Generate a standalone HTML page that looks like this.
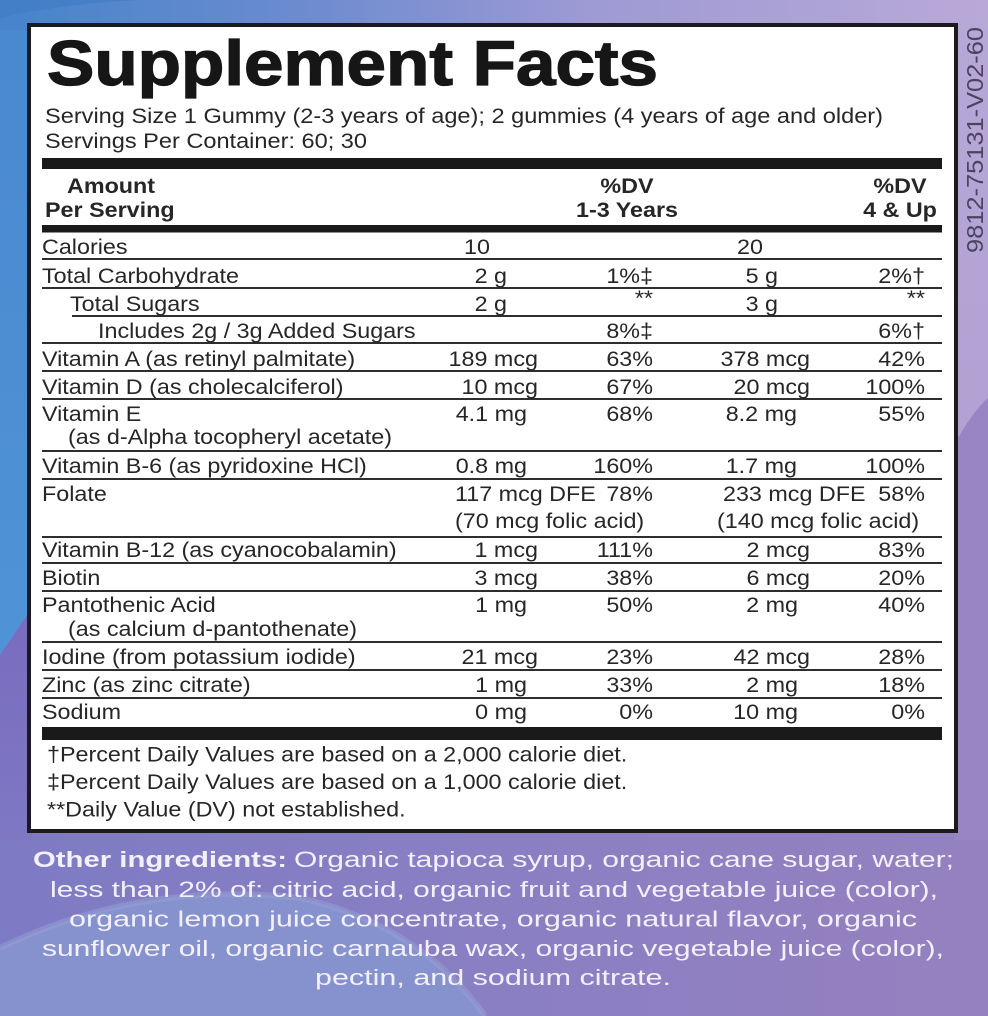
<!DOCTYPE html>
<html>
<head>
<meta charset="utf-8">
<style>
html,body{margin:0;padding:0;background:#8a80c4;}
svg{display:block;}
.t{font-family:"Liberation Sans",Arial,sans-serif;font-size:21.5px;fill:#262626;}
.b{font-weight:bold;}
.e{text-anchor:end;}
.m{text-anchor:middle;}
.ing{font-family:"Liberation Sans",Arial,sans-serif;font-size:22px;fill:#f3f0fa;}
</style>
</head>
<body>
<svg width="988" height="1016" viewBox="0 0 988 1016" xmlns="http://www.w3.org/2000/svg">
<defs>
  <linearGradient id="gt" x1="0" y1="0" x2="1" y2="0">
    <stop offset="0" stop-color="#4684cb"/>
    <stop offset="0.3" stop-color="#6b8bcf"/>
    <stop offset="0.6" stop-color="#9e9ad4"/>
    <stop offset="1" stop-color="#b9a9d8"/>
  </linearGradient>
  <linearGradient id="gl" x1="0" y1="0" x2="0" y2="1">
    <stop offset="0" stop-color="#4a88cf"/>
    <stop offset="1" stop-color="#5196d8"/>
  </linearGradient>
  <linearGradient id="gb" x1="0" y1="0" x2="1" y2="0">
    <stop offset="0" stop-color="#7d7bc4"/>
    <stop offset="0.5" stop-color="#8a7fc3"/>
    <stop offset="1" stop-color="#9581bf"/>
  </linearGradient>
  <linearGradient id="gr" x1="0" y1="0" x2="0" y2="1">
    <stop offset="0" stop-color="#b8a8d8"/>
    <stop offset="1" stop-color="#ab9bd0"/>
  </linearGradient>
  <linearGradient id="gp" x1="0" y1="0" x2="0" y2="1">
    <stop offset="0" stop-color="#796bbf"/>
    <stop offset="1" stop-color="#7e78c3"/>
  </linearGradient>
</defs>

<!-- background -->
<rect x="0" y="0" width="988" height="1016" fill="#8a80c4"/>
<rect x="0" y="820" width="988" height="196" fill="url(#gb)"/>
<rect x="0" y="0" width="32" height="840" fill="url(#gl)"/>
<polygon points="0,655 32,608 32,840 0,840" fill="url(#gp)"/>
<rect x="954" y="0" width="34" height="840" fill="url(#gr)"/>
<path d="M954,445 Q972,412 988,398 L988,840 L954,840 Z" fill="#9885c3"/>
<rect x="0" y="0" width="988" height="30" fill="url(#gt)"/>
<path d="M0,18 Q60,4 140,0 L0,0 Z" fill="#3f7bc3" opacity="0.6"/>
<path d="M0,948 Q140,880 300,898 Q420,925 485,1016 L0,1016 Z" fill="#8592cd"/>
<path d="M0,948 Q140,880 300,898 Q420,925 485,1016" fill="none" stroke="#98a0d6" stroke-width="6" opacity="0.5"/>

<!-- box -->
<rect x="29" y="25" width="927" height="806" fill="#ffffff" stroke="#1d1a1f" stroke-width="4"/>

<!-- vertical code -->
<text transform="translate(983 253) rotate(-90)" font-family="'Liberation Sans',Arial,sans-serif" font-size="23" fill="#4a4460" textLength="226" lengthAdjust="spacingAndGlyphs">9812-75131-V02-60</text>

<!-- title -->
<text x="47" y="85" font-family="'Liberation Sans',Arial,sans-serif" font-weight="bold" font-size="63" fill="#161616" stroke="#161616" stroke-width="1.3" textLength="611" lengthAdjust="spacingAndGlyphs">Supplement Facts</text>

<text class="t" x="45" y="123" textLength="838" lengthAdjust="spacingAndGlyphs">Serving Size 1 Gummy (2-3 years of age); 2 gummies (4 years of age and older)</text>
<text class="t" x="45" y="148" textLength="322" lengthAdjust="spacingAndGlyphs">Servings Per Container: 60; 30</text>

<!-- bars and lines -->
<rect x="42" y="158" width="900" height="11" fill="#1a1a1a"/>
<rect x="42" y="225" width="900" height="7.5" fill="#1a1a1a"/>
<g fill="#2e2e2e">
  <rect x="42" y="258" width="900" height="2"/>
  <rect x="42" y="287" width="900" height="2"/>
  <rect x="72" y="315" width="870" height="2"/>
  <rect x="42" y="342" width="900" height="2"/>
  <rect x="42" y="370" width="900" height="2"/>
  <rect x="42" y="398" width="900" height="2"/>
  <rect x="42" y="450" width="900" height="2"/>
  <rect x="42" y="478" width="900" height="2"/>
  <rect x="42" y="536" width="900" height="2"/>
  <rect x="42" y="562" width="900" height="2"/>
  <rect x="42" y="590" width="900" height="2"/>
  <rect x="42" y="641" width="900" height="2"/>
  <rect x="42" y="669" width="900" height="2"/>
  <rect x="42" y="697" width="900" height="2"/>
</g>
<rect x="42" y="727" width="900" height="13" fill="#1a1a1a"/>

<!-- table text (horizontally stretched) -->
<g transform="scale(1.085 1)">
  <text class="t b" x="61.75" y="193">Amount</text>
  <text class="t b" x="41.47" y="217">Per Serving</text>
  <text class="t b m" x="577.88" y="193">%DV</text>
  <text class="t b m" x="577.88" y="217">1-3 Years</text>
  <text class="t b m" x="829.49" y="193">%DV</text>
  <text class="t b m" x="829.49" y="217">4 &amp; Up</text>

  <!-- labels -->
  <text class="t" x="38.71" y="254">Calories</text>
  <text class="t" x="38.71" y="283">Total Carbohydrate</text>
  <text class="t" x="64.52" y="311">Total Sugars</text>
  <text class="t" x="90.32" y="338">Includes 2g / 3g Added Sugars</text>
  <text class="t" x="38.71" y="366">Vitamin A (as retinyl palmitate)</text>
  <text class="t" x="38.71" y="394">Vitamin D (as cholecalciferol)</text>
  <text class="t" x="38.71" y="421">Vitamin E</text>
  <text class="t" x="62.67" y="444">(as d-Alpha tocopheryl acetate)</text>
  <text class="t" x="38.71" y="473">Vitamin B-6 (as pyridoxine HCl)</text>
  <text class="t" x="38.71" y="501">Folate</text>
  <text class="t" x="38.71" y="557">Vitamin B-12 (as cyanocobalamin)</text>
  <text class="t" x="38.71" y="585">Biotin</text>
  <text class="t" x="38.71" y="612">Pantothenic Acid</text>
  <text class="t" x="62.67" y="636">(as calcium d-pantothenate)</text>
  <text class="t" x="38.71" y="664">Iodine (from potassium iodide)</text>
  <text class="t" x="38.71" y="692">Zinc (as zinc citrate)</text>
  <text class="t" x="38.71" y="719">Sodium</text>

  <!-- col 1 amounts -->
  <text class="t e" x="451.61" y="254">10</text>
  <text class="t e" x="467.28" y="283">2 g</text>
  <text class="t e" x="467.28" y="311">2 g</text>
  <text class="t e" x="495.85" y="366">189 mcg</text>
  <text class="t e" x="495.85" y="394">10 mcg</text>
  <text class="t e" x="485.71" y="421">4.1 mg</text>
  <text class="t e" x="485.71" y="473">0.8 mg</text>
  <text class="t" x="419.35" y="501">117 mcg DFE</text>
  <text class="t" x="419.35" y="528">(70 mcg folic acid)</text>
  <text class="t e" x="495.85" y="557">1 mcg</text>
  <text class="t e" x="495.85" y="585">3 mcg</text>
  <text class="t e" x="485.71" y="612">1 mg</text>
  <text class="t e" x="495.85" y="664">21 mcg</text>
  <text class="t e" x="485.71" y="692">1 mg</text>
  <text class="t e" x="485.71" y="719">0 mg</text>

  <!-- col 2 %DV 1-3 -->
  <text class="t e" x="601.84" y="283">1%‡</text>
  <text class="t e" x="601.84" y="305" font-size="16">**</text>
  <text class="t e" x="601.84" y="338">8%‡</text>
  <text class="t e" x="601.84" y="366">63%</text>
  <text class="t e" x="601.84" y="394">67%</text>
  <text class="t e" x="601.84" y="421">68%</text>
  <text class="t e" x="601.84" y="473">160%</text>
  <text class="t e" x="601.84" y="501">78%</text>
  <text class="t e" x="601.84" y="557">111%</text>
  <text class="t e" x="601.84" y="585">38%</text>
  <text class="t e" x="601.84" y="612">50%</text>
  <text class="t e" x="601.84" y="664">23%</text>
  <text class="t e" x="601.84" y="692">33%</text>
  <text class="t e" x="601.84" y="719">0%</text>

  <!-- col 3 amounts -->
  <text class="t e" x="703.23" y="254">20</text>
  <text class="t e" x="717.05" y="283">5 g</text>
  <text class="t e" x="717.05" y="311">3 g</text>
  <text class="t e" x="746.54" y="366">378 mcg</text>
  <text class="t e" x="746.54" y="394">20 mcg</text>
  <text class="t e" x="734.56" y="421">8.2 mg</text>
  <text class="t e" x="734.56" y="473">1.7 mg</text>
  <text class="t" x="666.36" y="501">233 mcg DFE</text>
  <text class="t" x="660.83" y="528">(140 mcg folic acid)</text>
  <text class="t e" x="746.54" y="557">2 mcg</text>
  <text class="t e" x="746.54" y="585">6 mcg</text>
  <text class="t e" x="735.48" y="612">2 mg</text>
  <text class="t e" x="746.54" y="664">42 mcg</text>
  <text class="t e" x="735.48" y="692">2 mg</text>
  <text class="t e" x="735.48" y="719">10 mg</text>

  <!-- col 4 %DV 4 & up -->
  <text class="t e" x="852.53" y="283">2%†</text>
  <text class="t e" x="852.53" y="305" font-size="16">**</text>
  <text class="t e" x="852.53" y="338">6%†</text>
  <text class="t e" x="852.53" y="366">42%</text>
  <text class="t e" x="852.53" y="394">100%</text>
  <text class="t e" x="852.53" y="421">55%</text>
  <text class="t e" x="852.53" y="473">100%</text>
  <text class="t e" x="852.53" y="501">58%</text>
  <text class="t e" x="852.53" y="557">83%</text>
  <text class="t e" x="852.53" y="585">20%</text>
  <text class="t e" x="852.53" y="612">40%</text>
  <text class="t e" x="852.53" y="664">28%</text>
  <text class="t e" x="852.53" y="692">18%</text>
  <text class="t e" x="852.53" y="719">0%</text>

  <!-- footnotes -->
  <text class="t" x="43.32" y="761.5">†Percent Daily Values are based on a 2,000 calorie diet.</text>
  <text class="t" x="43.32" y="789">‡Percent Daily Values are based on a 1,000 calorie diet.</text>
  <text class="t" x="43.32" y="816.5">**Daily Value (DV) not established.</text>
</g>

<!-- other ingredients -->
<text class="ing" x="33" y="867" font-weight="bold" textLength="254" lengthAdjust="spacingAndGlyphs">Other ingredients:</text>
<text class="ing" x="294" y="867" textLength="660" lengthAdjust="spacingAndGlyphs">Organic tapioca syrup, organic cane sugar, water;</text>
<text class="ing" x="50" y="897" textLength="888" lengthAdjust="spacingAndGlyphs">less than 2% of: citric acid, organic fruit and vegetable juice (color),</text>
<text class="ing" x="69" y="926.5" textLength="848" lengthAdjust="spacingAndGlyphs">organic lemon juice concentrate, organic natural flavor, organic</text>
<text class="ing" x="42" y="956" textLength="902" lengthAdjust="spacingAndGlyphs">sunflower oil, organic carnauba wax, organic vegetable juice (color),</text>
<text class="ing" x="315" y="985" textLength="356" lengthAdjust="spacingAndGlyphs">pectin, and sodium citrate.</text>
</svg>
</body>
</html>
